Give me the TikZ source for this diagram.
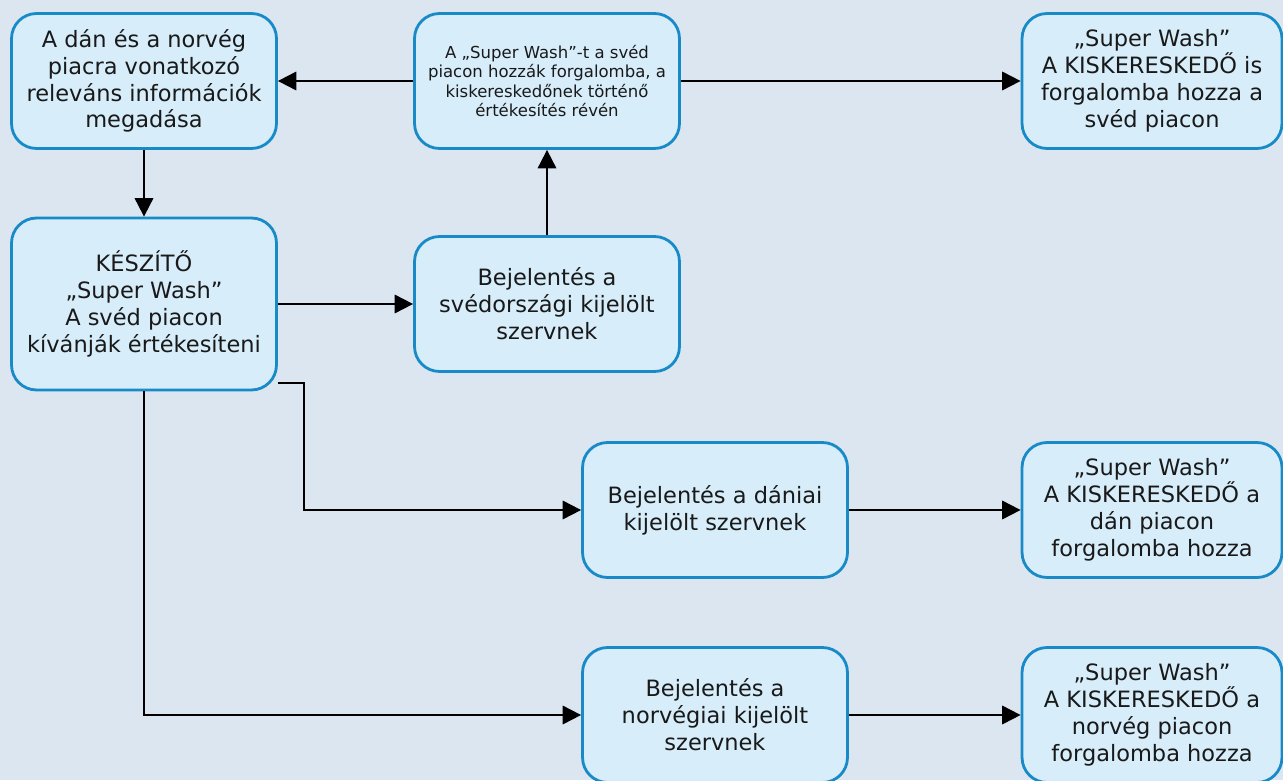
\documentclass[tikz,border=0pt]{standalone}
\usepackage{fontspec}
\setmainfont{DejaVu Sans}
\usetikzlibrary{arrows.meta}

\definecolor{bgblue}{RGB}{220,230,241}
\definecolor{boxfill}{RGB}{215,237,250}
\definecolor{boxline}{RGB}{24,138,200}

\begin{document}
\begin{tikzpicture}[x=0.02cm,y=-0.02cm,
        every text node part/.style={align=center},
        box/.style={draw=boxline,fill=boxfill,line width=1.6pt,rounded corners=0.5cm,
            minimum width=5.3cm,minimum height=2.7cm,text=black!90,inner sep=1pt,
            font=\fontsize{12.8}{15.3}\selectfont},
        link/.style={line width=1.1pt,-{Triangle[length=10.5pt,width=10.5pt]}}]
        \clip (0,0) rectangle (1283,780);
        \fill[bgblue] (0,0) rectangle (1283,780);

        \node[box] (info) at (144,81) {A dán és a norvég\\ piacra vonatkozó\\ releváns információk\\ megadása};
        \node[box,font=\fontsize{9.4}{11.1}\selectfont] (svmarket) at (547,81) {A „Super Wash”-t a svéd\\ piacon hozzák forgalomba, a\\ kiskereskedőnek történő\\ értékesítés révén};
        \node[box,minimum width=5.2cm] (svretail) at (1152,81) {„Super Wash”\\ A KISKERESKEDŐ is\\ forgalomba hozza a\\ svéd piacon};
        \node[box,minimum height=3.44cm] (maker) at (144,304) {KÉSZÍTŐ\\ „Super Wash”\\ A svéd piacon\\ kívánják értékesíteni};
        \node[box] (svnotify) at (547,304) {Bejelentés a\\ svédországi kijelölt\\ szervnek};
        \node[box] (dknotify) at (715,510) {Bejelentés a dániai\\ kijelölt szervnek};
        \node[box,minimum width=5.2cm] (dkretail) at (1152,510) {„Super Wash”\\ A KISKERESKEDŐ a\\ dán piacon\\ forgalomba hozza};
        \node[box] (nonotify) at (715,715) {Bejelentés a\\ norvégiai kijelölt\\ szervnek};
        \node[box,minimum width=5.2cm] (noretail) at (1152,715) {„Super Wash”\\ A KISKERESKEDŐ a\\ norvég piacon\\ forgalomba hozza};

        \draw[link] (svmarket.west) -- (info.east);
        \draw[link] (svmarket.east) -- (svretail.west);
        \draw[link] (info.south) -- (maker.north);
        \draw[link] (maker.east) -- (svnotify.west);
        \draw[link] (svnotify.north) -- (svmarket.south);
        \draw[link] ([yshift=0.16cm]maker.south east) -- ++(26,0) |- (dknotify.west);
        \draw[link] (maker.south) |- (nonotify.west);
        \draw[link] (dknotify.east) -- (dkretail.west);
        \draw[link] (nonotify.east) -- (noretail.west);
    \end{tikzpicture}
\end{document}
